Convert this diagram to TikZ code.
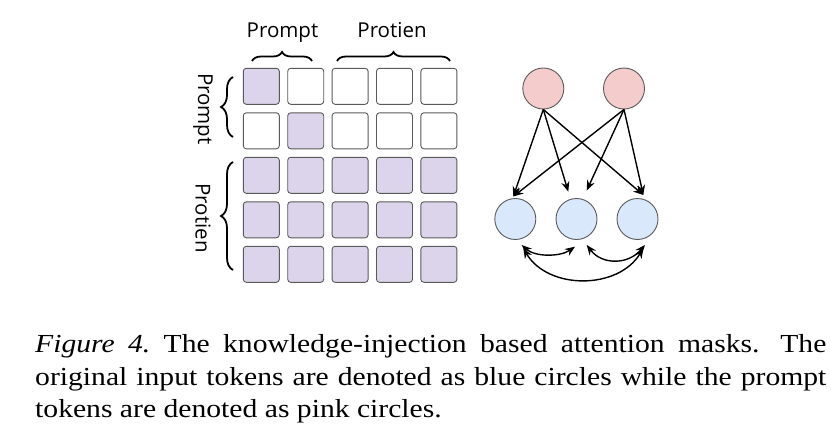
\documentclass[tikz,border=0pt]{standalone}
\usepackage{fontspec}
\setmainfont{Liberation Serif}
\newfontfamily\labfont{Open Sans}
\usetikzlibrary{arrows.meta,decorations.pathreplacing}
\definecolor{cellpurple}{HTML}{DCD4EA}
\definecolor{nodepink}{HTML}{F4CCCC}
\definecolor{nodeblue}{HTML}{DAE8FC}
\definecolor{edgegray}{HTML}{5A5A5A}
\begin{document}
\begin{tikzpicture}[x=1pt,y=-1pt,
  cell/.style={draw=edgegray, line width=0.9pt, rounded corners=3pt, minimum size=36pt, inner sep=0pt},
  oncell/.style={cell, fill=cellpurple},
  offcell/.style={cell, fill=white},
  lab/.style={font=\labfont\fontsize{20.5}{23}\selectfont, inner sep=0pt},
  bracestyle/.style={decorate, decoration={brace, amplitude=#1}, line width=1.8pt},
  tok/.style={circle, draw=edgegray, line width=0.9pt, minimum size=41pt, inner sep=0pt},
  ptok/.style={tok, fill=nodepink},
  btok/.style={tok, fill=nodeblue},
  arr/.style={-{Stealth[length=10pt,width=8pt]}, line width=1.4pt},
  darr/.style={{Stealth[length=10pt,width=8pt]}-{Stealth[length=10pt,width=8pt]}, line width=1.4pt},
  captext/.style={anchor=base west, inner sep=0pt, font=\fontsize{26}{32.5}\selectfont\frenchspacing}
]
\useasboundingbox (0,0) rectangle (831,439);

% grid
\foreach \r in {1,...,5}{
  \foreach \c in {1,...,5}{
    \pgfmathsetmacro{\xx}{261.3+44.4*(\c-1)}
    \pgfmathsetmacro{\yy}{86.3+44.5*(\r-1)}
    \ifnum\r>2
      \node[oncell] (s-\r-\c) at (\xx,\yy) {};
    \else
      \ifnum\r=\c
        \node[oncell] (s-\r-\c) at (\xx,\yy) {};
      \else
        \node[offcell] (s-\r-\c) at (\xx,\yy) {};
      \fi
    \fi
  }
}

% top labels and braces
\node[lab, anchor=base] (tprompt) at (282.5,37) {Prompt};
\node[lab, anchor=base] (tprot) at (392,37) {Protien};
\draw[bracestyle=9pt] (252,61) -- (312,61);
\draw[bracestyle=9pt] (337,61) -- (450,61);

% left labels and braces
\node[lab, rotate=-90] (lprompt) at (203,109) {Prompt};
\node[lab, rotate=-90] (lprot) at (203,218) {Protien};
\draw[bracestyle=12pt] (233,137) -- (233,77);
\draw[bracestyle=12pt] (233,270) -- (233,162);

% token graph
\node[ptok] (p1) at (543.3,88.5) {};
\node[ptok] (p2) at (624,88.5) {};
\node[btok] (b1) at (515.3,219) {};
\node[btok] (b2) at (576.5,219) {};
\node[btok] (b3) at (637.5,219) {};

\coordinate (t1) at (513.3,196.5);
\coordinate (t2) at (568.3,191.7);
\coordinate (t3) at (586.7,190.5);
\coordinate (t4) at (643.3,195);
\draw[arr] (p1.south) -- (t1);
\draw[arr] (p1.south) -- (t2);
\draw[arr] (p1.south) -- (t4);
\draw[arr] (p2.south) -- (t1);
\draw[arr] (p2.south) -- (t3);
\draw[arr] (p2.south) -- (t4);

\coordinate (a1) at (521.7,245);
\coordinate (a2) at (575,246.7);
\coordinate (a3) at (586.7,245);
\coordinate (a4) at (645,245);
\coordinate (a5) at (523.3,248.3);
\coordinate (a6) at (643.3,248.3);
\draw[darr] (a1) .. controls (535,257) and (560,257) .. (a2);
\draw[darr] (a3) .. controls (602,265) and (628,265) .. (a4);
\draw[darr] (a5) .. controls (548,290) and (618,290) .. (a6);

% caption
\node[captext] (c1) at (35,352) {\scalebox{1.14}[1]{\makebox[694pt][s]{\textit{Figure 4.} The knowledge-injection based attention masks.\hspace{0.25em} The}}};
\node[captext] (c2) at (35,385) {\scalebox{1.14}[1]{\makebox[694pt][s]{original input tokens are denoted as blue circles while the prompt}}};
\node[captext] (c3) at (35,417) {\scalebox{1.14}[1]{tokens are denoted as pink circles.}};
\end{tikzpicture}
\end{document}
